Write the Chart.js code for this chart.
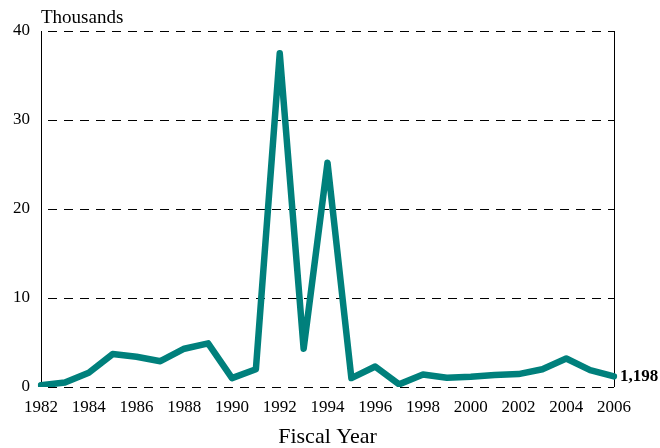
<!DOCTYPE html>
<html>
<head>
<meta charset="utf-8">
<script src="https://cdn.jsdelivr.net/npm/chart.js@4/dist/chart.umd.min.js"></script>
<style>
html,body{margin:0;padding:0;background:#fff;}
#wrap{width:660px;height:448px;position:relative;}
</style>
</head>
<body>
<div id="wrap"><canvas id="c" width="660" height="448"></canvas></div>
<script>
const years = ['1982','1983','1984','1985','1986','1987','1988','1989','1990','1991','1992','1993','1994','1995','1996','1997','1998','1999','2000','2001','2002','2003','2004','2005','2006'];
const values = [0.2, 0.5, 1.6, 3.7, 3.4, 2.9, 4.3, 4.9, 1.0, 2.0, 37.5, 4.3, 25.2, 1.0, 2.3, 0.3, 1.4, 1.05, 1.15, 1.35, 1.45, 2.0, 3.2, 1.9, 1.198];
const yTicks = [0, 10, 20, 30, 40];
const unitLabel = 'Thousands';
const xTitle = 'Fiscal Year';
const endLabel = '1,198';

const SERIF = '"Liberation Serif", "Times New Roman", serif';

const annot = {
  id: 'annot',
  beforeDatasetsDraw(chart) {
    const ctx = chart.ctx;
    const a = chart.chartArea;
    ctx.save();
    ctx.strokeStyle = '#000';
    ctx.lineWidth = 1;
    ctx.beginPath();
    ctx.moveTo(Math.round(a.left) + 0.5, a.top);
    ctx.lineTo(Math.round(a.left) + 0.5, a.bottom);
    ctx.moveTo(Math.round(a.right) + 0.5, a.top);
    ctx.lineTo(Math.round(a.right) + 0.5, a.bottom);
    ctx.stroke();
    ctx.restore();
  },
  afterDraw(chart) {
    const ctx = chart.ctx;
    const a = chart.chartArea;
    const xs = chart.scales.x, ys = chart.scales.y;
    ctx.save();
    ctx.fillStyle = '#000';
    ctx.font = '19px ' + SERIF;
    ctx.textAlign = 'left';
    ctx.textBaseline = 'alphabetic';
    ctx.fillText(unitLabel, a.left, 23);
    const last = values.length - 1;
    const px = xs.getPixelForValue(last);
    const py = ys.getPixelForValue(values[last]);
    ctx.font = 'bold 17px ' + SERIF;
    ctx.textBaseline = 'middle';
    ctx.fillText(endLabel, px + 6, py);
    ctx.restore();
  }
};

new Chart(document.getElementById('c'), {
  type: 'line',
  data: {
    labels: years,
    datasets: [{
      data: values,
      borderColor: '#00807c',
      borderWidth: 6.5,
      pointRadius: 0,
      tension: 0,
      fill: false,
      borderJoinStyle: 'round',
      borderCapStyle: 'round'
    }]
  },
  options: {
    responsive: false,
    animation: false,
    events: [],
    layout: { padding: { top: 31, right: 46, left: 0, bottom: 0 } },
    plugins: { legend: { display: false }, tooltip: { enabled: false }, title: { display: false } },
    scales: {
      x: {
        type: 'category',
        offset: false,
        grid: { display: false, drawTicks: false },
        border: { display: false },
        ticks: {
          autoSkip: false,
          maxRotation: 0,
          padding: 10,
          color: '#000',
          font: { family: SERIF, size: 17 },
          callback: function (v, i) { return i % 2 === 0 ? years[i] : ''; }
        },
        title: {
          display: true,
          text: xTitle,
          color: '#000',
          font: { family: SERIF, size: 22, lineHeight: 1.0 },
          padding: { top: 0, bottom: 0 }
        },
        afterFit(s) { s.height = 61; }
      },
      y: {
        min: 0,
        max: 40,
        afterBuildTicks(s) { s.ticks = yTicks.map(v => ({ value: v })); },
        grid: {
          color: '#000',
          lineWidth: 1,
          drawTicks: false
        },
        border: { display: false, dash: [9, 7], dashOffset: 9 },
        ticks: {
          padding: 11,
          color: '#000',
          font: { family: SERIF, size: 17 }
        },
        afterFit(s) { s.width = 41; }
      }
    }
  },
  plugins: [annot]
});
</script>
</body>
</html>
